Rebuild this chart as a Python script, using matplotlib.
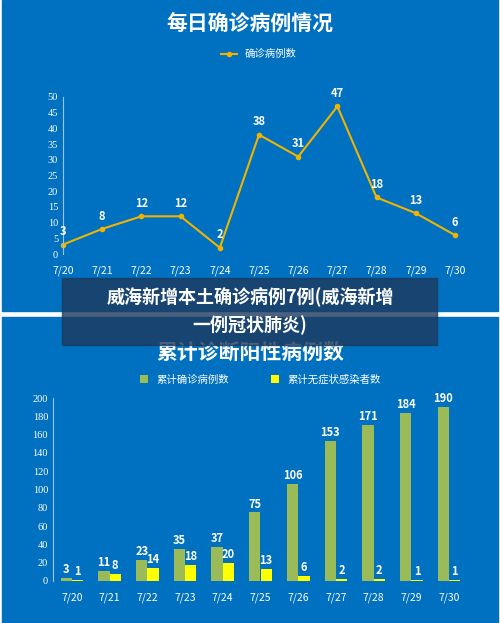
import matplotlib.pyplot as plt
import matplotlib.patches as mpatches

plt.rcParams['font.family'] = ['Noto Sans CJK SC', 'DejaVu Sans']

dates = ['7/20', '7/21', '7/22', '7/23', '7/24', '7/25', '7/26', '7/27', '7/28', '7/29', '7/30']
daily = [3, 8, 12, 12, 2, 38, 31, 47, 18, 13, 6]
cum_confirmed = [3, 11, 23, 35, 37, 75, 106, 153, 171, 184, 190]
cum_asym = [1, 8, 14, 18, 20, 13, 6, 2, 2, 1, 1]

W, H = 500, 623
BLUE = '#0070C0'
fig = plt.figure(figsize=(W / 100, H / 100), dpi=100)
fig.patch.set_facecolor('white')


def box(x0, y0, x1, y1):
    # pixel box (top-left origin) -> figure fraction
    return [x0 / W, 1 - y1 / H, (x1 - x0) / W, (y1 - y0) / H]


# blue panels
for y0, y1 in [(0, 311), (317, 623)]:
    fig.patches.append(mpatches.Rectangle((0.004, 1 - y1 / H), 0.992, (y1 - y0) / H,
                                          transform=fig.transFigure, color=BLUE, zorder=-1))


def style(ax):
    ax.set_facecolor('none')
    ax.set_zorder(2)
    for s in ['top', 'right', 'bottom']:
        ax.spines[s].set_visible(False)
    ax.spines['left'].set_color('#9dc3e6')
    ax.tick_params(colors='white', length=0, labelsize=7.5)
    for t in ax.get_yticklabels():
        t.set_fontfamily('Liberation Serif')


# top chart
ax1 = fig.add_axes(box(63, 97, 455, 254))
ax1.plot(range(len(dates)), daily, color='#F0B400', lw=1.5, marker='o', ms=3, clip_on=False)
for i, v in enumerate(daily):
    ax1.text(i, v + 2, str(v), color='white', ha='center', va='bottom', fontsize=8, fontweight='bold')
ax1.set_xlim(0, 10)
ax1.set_ylim(0, 50)
ax1.set_yticks(range(0, 51, 5))
ax1.set_xticks(range(len(dates)))
ax1.set_xticklabels(dates)
ax1.tick_params(axis='x', pad=8)
style(ax1)
fig.text(0.5, 0.98, '每日确诊病例情况', ha='center', va='top',
         color='white', fontsize=15, fontweight='bold', zorder=3)
ax1.legend(['确诊病例数'], loc='lower center', bbox_to_anchor=(0.5, 1.18), frameon=False,
           labelcolor='white', fontsize=7.5, handlelength=1.5)

# bottom chart
ax2 = fig.add_axes(box(53, 398, 468, 581))
x = range(len(dates))
bw = 0.3
ax2.bar([i - bw / 2 for i in x], cum_confirmed, bw, color='#9BBB59', label='累计确诊病例数')
ax2.bar([i + bw / 2 for i in x], cum_asym, bw, color='#FFFF00', label='累计无症状感染者数')
for i in x:
    ax2.text(i - bw / 2, cum_confirmed[i] + 2, str(cum_confirmed[i]), color='white', ha='center',
             va='bottom', fontsize=8, fontweight='bold')
    ax2.text(i + bw / 2, cum_asym[i] + 2, str(cum_asym[i]), color='white', ha='center',
             va='bottom', fontsize=8, fontweight='bold')
ax2.set_xlim(-0.5, 10.5)
ax2.set_ylim(0, 200)
ax2.set_yticks(range(0, 201, 20))
ax2.set_xticks(list(x))
ax2.set_xticklabels(dates)
ax2.tick_params(axis='x', pad=8)
style(ax2)
ax2.legend(loc='lower center', bbox_to_anchor=(0.5, 1.02), ncol=2, frameon=False,
           labelcolor='white', fontsize=7.5, handlelength=0.8, handleheight=0.8, columnspacing=4)
fig.text(0.5, 1 - 352 / H, '累计诊断阳性病例数', ha='center', va='center',
         color='white', fontsize=15, fontweight='bold', zorder=3)

# caption overlay
fig.patches.append(mpatches.Rectangle((62 / W, 1 - 345 / H), 375 / W, 67 / H,
                                      transform=fig.transFigure, color='#1e3a5c', alpha=0.8, zorder=5))
fig.text(0.5, 1 - 311 / H, '威海新增本土确诊病例7例(威海新增\n一例冠状肺炎)', ha='center', va='center',
         color='white', fontsize=13, fontweight='bold', linespacing=1.5, zorder=6)

fig.savefig('out.png', dpi=100, facecolor='white')
